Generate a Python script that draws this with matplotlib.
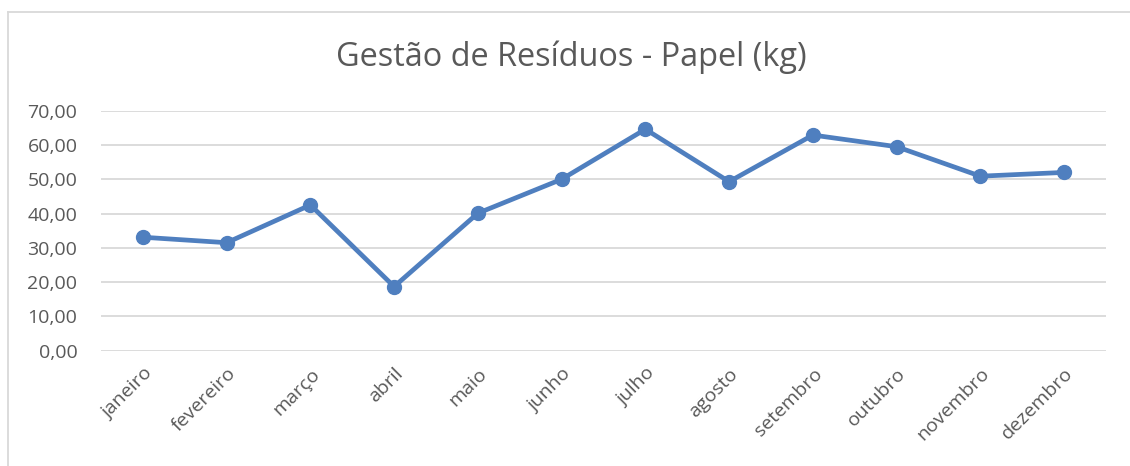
import matplotlib
matplotlib.use("Agg")
import matplotlib.pyplot as plt
from matplotlib.lines import Line2D
from matplotlib.ticker import FuncFormatter, MultipleLocator

months = ["janeiro", "fevereiro", "março", "abril", "maio", "junho",
          "julho", "agosto", "setembro", "outubro", "novembro", "dezembro"]
papel_kg = [33.1, 31.5, 42.5, 18.7, 40.1, 50.0, 64.6, 49.3, 62.9, 59.5, 50.9, 52.0]
title = "Gestão de Resíduos - Papel (kg)"

W, H = 1130, 466
fig = plt.figure(figsize=(W / 100, H / 100), dpi=100)
plt.rcParams['font.family'] = ['Open Sans', 'DejaVu Sans']

text_color = "#595959"
grid_color = "#D9D9D9"
line_color = "#4F7FBF"

# chart border (top and left visible)
fig.add_artist(Line2D([7.5 / W, 7.5 / W], [0, 1 - 11.5 / H], transform=fig.transFigure,
                      color=grid_color, lw=1.3))
fig.add_artist(Line2D([7.5 / W, 1], [1 - 11.5 / H, 1 - 11.5 / H], transform=fig.transFigure,
                      color=grid_color, lw=1.3))

left, right = 101 / W, 1106 / W
bottom, top = (H - 350.7) / H, (H - 110.7) / H
ax = fig.add_axes([left, bottom, right - left, top - bottom])

x = list(range(len(months)))
ax.plot(x, papel_kg, color=line_color, lw=3.4, marker='o', markersize=10,
        solid_joinstyle='round', zorder=3, clip_on=False)

ax.set_xlim(-0.5, len(months) - 0.5)
ax.set_ylim(0, 70)
ax.yaxis.set_major_locator(MultipleLocator(10))
ax.yaxis.set_major_formatter(FuncFormatter(lambda v, p: f"{v:.2f}".replace('.', ',')))
ax.grid(axis='y', color=grid_color, lw=1.3)
ax.set_axisbelow(True)
for s in ax.spines.values():
    s.set_visible(False)
ax.tick_params(axis='both', length=0, colors=text_color, labelsize=14)
ax.tick_params(axis='y', pad=17)
ax.set_xticks(x)
ax.set_xticklabels(months, rotation=45, ha='right', rotation_mode='anchor')
ax.tick_params(axis='x', pad=10)

fig.text(571 / W, 1 - 57 / H, title, ha='center', va='center', fontsize=23.4, color=text_color)

fig.savefig("out.png", dpi=100, facecolor="white")
